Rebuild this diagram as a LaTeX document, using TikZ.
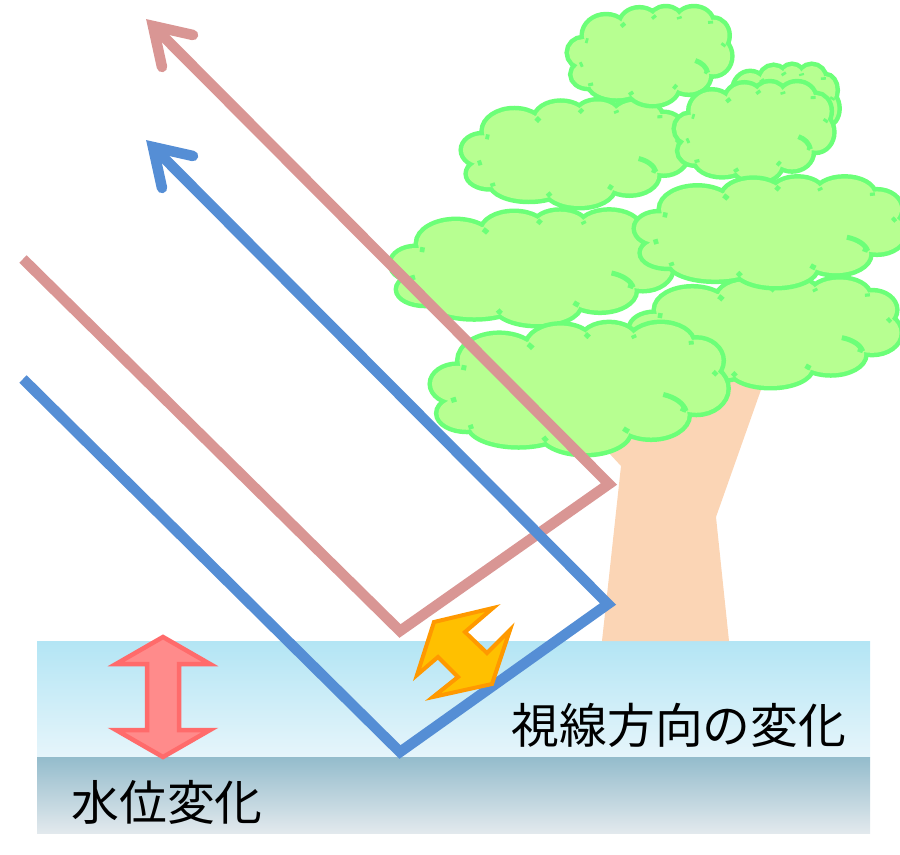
\documentclass[tikz,border=0pt]{standalone}
\usepackage{fontspec}
\newfontfamily\jpfont{Noto Sans CJK JP}
\definecolor{rayred}{HTML}{D99694}
\definecolor{rayblue}{HTML}{558ED5}
\definecolor{leaf}{HTML}{B7FF91}
\definecolor{leafline}{HTML}{6CFF78}
\definecolor{bark}{HTML}{FBD5B5}
\definecolor{shallowtop}{HTML}{B3E5F4}
\definecolor{shallowbot}{HTML}{E6F5FB}
\definecolor{deeptop}{HTML}{94BCCC}
\definecolor{deepbot}{HTML}{E2E9ED}
\definecolor{amber}{HTML}{FFC000}
\definecolor{amberline}{HTML}{FF9900}
\definecolor{levelfill}{HTML}{FF8B8B}
\definecolor{levelline}{HTML}{FF6B6B}

% one lumpy cloud of leaves in a unit box (u to the right, v downwards)
\def\cloudshape{%
  (0.2253,0.2976) ellipse [x radius=0.1319, y radius=0.1905]
  (0.4341,0.1905) ellipse [x radius=0.1099, y radius=0.1548]
  (0.5989,0.1429) ellipse [x radius=0.0879, y radius=0.1190]
  (0.7747,0.1667) ellipse [x radius=0.1044, y radius=0.1429]
  (0.8956,0.2976) ellipse [x radius=0.0824, y radius=0.1548]
  (0.8956,0.5119) ellipse [x radius=0.0989, y radius=0.1786]
  (0.7418,0.7143) ellipse [x radius=0.1209, y radius=0.1667]
  (0.5165,0.8333) ellipse [x radius=0.1484, y radius=0.1667]
  (0.2912,0.7857) ellipse [x radius=0.1648, y radius=0.1548]
  (0.1154,0.7024) ellipse [x radius=0.0934, y radius=0.1190]
  (0.0824,0.4762) ellipse [x radius=0.0824, y radius=0.1310]
  (0.5000,0.4762) ellipse [x radius=0.3846, y radius=0.3571]}

\tikzset{
  x=0.02cm, y=-0.02cm,
  ray/.style={line width=0.21cm, line join=miter, line cap=butt},
  raytip/.style={line width=0.21cm, line join=miter, line cap=round},
  leaftick/.style={draw=leafline, line width=0.1cm, line cap=butt},
  pics/leafcloud/.style={code={
    % wide outline underneath, then the leaf fill on top of it
    \path[draw=leafline, line width=0.22cm] \cloudshape;
    \path[fill=leaf, draw=leaf, line width=0.04cm] \cloudshape;
    % each lobe's edge runs on a little past the point where it meets the next
    \foreach \cu/\cv/\rx/\ry/\a in {
      0.2253/0.2976/0.1319/0.1905/319,
      0.4341/0.1905/0.1099/0.1548/321,
      0.5989/0.1429/0.0879/0.1190/340,
      0.7747/0.1667/0.1044/0.1429/352,
      0.8956/0.2976/0.0824/0.1548/34,
      0.8956/0.5119/0.0989/0.1786/111,
      0.7418/0.7143/0.1209/0.1667/130,
      0.5165/0.8333/0.1484/0.1667/151,
      0.2912/0.7857/0.1648/0.1548/167,
      0.1154/0.7024/0.0934/0.1190/236,
      0.0824/0.4762/0.0824/0.1310/281}
      \draw[leaftick] (\cu,\cv) ++({\rx*cos(\a-1)},{\ry*sin(\a-1)})
        arc[start angle=\a-1, delta angle=12, x radius=\rx, y radius=\ry];
    % inner fold of the lower right lobe
    \draw[leaftick] (0.7418,0.7143) ++({0.1209*cos(290)},{0.1667*sin(290)})
      arc[start angle=290, end angle=350, x radius=0.1209, y radius=0.1667];
  }},
  caption/.style={inner sep=0pt, anchor=center,
    font=\jpfont\fontsize{27.2pt}{32pt}\selectfont}
}

\begin{document}
\begin{tikzpicture}
\useasboundingbox (0,0) rectangle (900,855);
\clip (0,0) rectangle (900,855);

% water: shallow layer and the bed below it
\shade[top color=shallowtop, bottom color=shallowbot] (37,641) rectangle (870,757);
\shade[top color=deeptop, bottom color=deepbot] (37,757) rectangle (870,833);

% tree trunk
\fill[bark] (602,641) -- (621,466) -- (608,452) -- (640,370) -- (768,370)
  -- (716,517) -- (729,641) -- cycle;

% crown, back to front
\path (464,100) pic[xscale=223, yscale=105] {leafcloud};
\path (570,7)   pic[xscale=160, yscale=96]  {leafcloud};
\path (725,65)  pic[xscale=112, yscale=85]  {leafcloud};
\path (677,82)  pic[xscale=155, yscale=98]  {leafcloud};
\path (393,210) pic[xscale=279, yscale=113] {leafcloud};
\path (632,278) pic[xscale=268, yscale=107] {leafcloud};
\path (637,177) pic[xscale=268, yscale=108] {leafcloud};
\path (433,322) pic[xscale=294, yscale=130] {leafcloud};

% line of sight before the change (red) and after it (blue)
\coordinate (redStart)  at (23,259);
\coordinate (redBottom) at (400,631);
\coordinate (redCorner) at (609,484);
\coordinate (redVertex) at (153,26);
\coordinate (redArmA)   at (193,35);
\coordinate (redArmB)   at (162,67);
\coordinate (blueStart)  at (23,379);
\coordinate (blueBottom) at (400,752);
\coordinate (blueCorner) at (608,604);
\coordinate (blueVertex) at (153,147);
\coordinate (blueArmA)   at (193,156);
\coordinate (blueArmB)   at (162,188);

\draw[ray, rayred] (redStart) -- (redBottom) -- (redCorner) -- (redVertex);
\draw[raytip, rayred] (redArmA) -- (redVertex) -- (redArmB);
\draw[ray, rayblue] (blueStart) -- (blueBottom) -- (blueCorner) -- (blueVertex);
\draw[raytip, rayblue] (blueArmA) -- (blueVertex) -- (blueArmB);

% double arrow: change of viewing direction
\filldraw[fill=amber, draw=amberline, line width=0.08cm, line join=miter]
  (434,622) -- (493,608) -- (465,632) -- (487,653) -- (510,630) -- (492,684)
  -- (433,697) -- (458,677) -- (438,657) -- (417,675) -- cycle;

% double arrow: change of water level
\filldraw[fill=levelfill, draw=levelline, line width=0.09cm, line join=miter]
  (163,637) -- (210,664) -- (179,664) -- (179,730) -- (210,730) -- (163,757)
  -- (116,730) -- (147,730) -- (147,664) -- (116,664) -- cycle;

\node[caption] (levelText) at (167,802) {水位変化};
\node[caption] (viewText) at (679,725) {視線方向の変化};
\end{tikzpicture}
\end{document}
